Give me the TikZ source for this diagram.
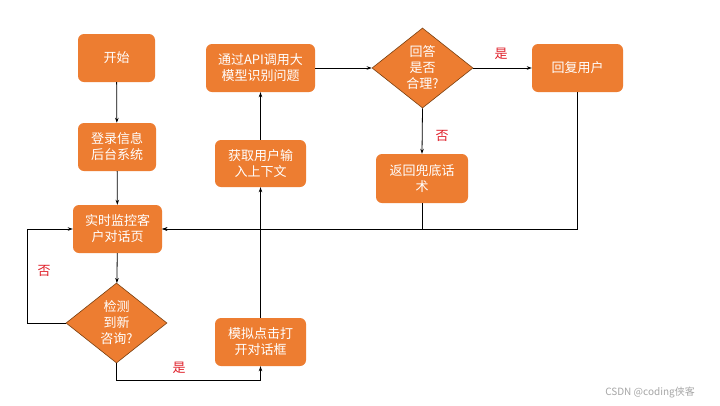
\documentclass[tikz,border=0pt]{standalone}
\usepackage{fontspec}
\setmainfont{Noto Sans CJK SC}
\usetikzlibrary{shapes.geometric,arrows.meta}
\definecolor{boxorange}{HTML}{ED7D31}
\definecolor{edgebrown}{HTML}{7A4010}
\definecolor{labelred}{HTML}{E0202A}
\begin{document}
\begin{tikzpicture}[x=1pt,y=-1pt,
  stepbox/.style={rectangle, rounded corners=6pt, fill=boxorange, text=white, align=center,
    font=\fontsize{13}{16}\selectfont, inner sep=0pt},
  decbox/.style={diamond, fill=boxorange, draw=edgebrown, line width=0.6pt, inner sep=0pt,
    minimum width=101pt, minimum height=80pt},
  dectext/.style={text=white, align=center, font=\fontsize{13}{16}\selectfont, inner sep=0pt},
  lbl/.style={text=labelred, font=\fontsize{13}{16}\selectfont, inner sep=0pt},
  arr/.style={draw=black, line width=0.8pt, -{Stealth[length=5pt,width=3.5pt]}},
  ln/.style={draw=black, line width=0.8pt}]
\useasboundingbox[fill=white] (0,0) rectangle (720,405);

\node[stepbox, minimum width=77pt, minimum height=48pt] (start) at (116.5,58) {开始};
\node[stepbox, minimum width=78pt, minimum height=48pt] (login) at (117,147) {登录信息\\后台系统};
\node[stepbox, minimum width=89pt, minimum height=48pt] (monitor) at (117.5,229) {实时监控客\\户对话页};
\node[decbox] (check) at (116.5,323) {};
\node[dectext] (checkt) at (check.center) {检测\\到新\\咨询?};
\node[stepbox, minimum width=91pt, minimum height=48pt] (click) at (260.5,342) {模拟点击打\\开对话框};
\node[stepbox, minimum width=91pt, minimum height=47pt] (ctx) at (260.5,163.5) {获取用户输\\入上下文};
\node[stepbox, minimum width=109pt, minimum height=48pt] (api) at (260.5,68) {通过API调用大\\模型识别问题};
\node[decbox] (judge) at (422.5,68) {};
\node[dectext] (judget) at (judge.center) {回答\\是否\\合理?};
\node[stepbox, minimum width=91pt, minimum height=48pt] (reply) at (577.5,68) {回复用户};
\node[stepbox, minimum width=92pt, minimum height=49pt] (fallback) at (422,178.5) {返回兜底话\\术};

\draw[arr] (start) -- (login);
\draw[arr] (login) -- (monitor);
\draw[arr] (monitor) -- (check);
\draw[arr] (check.west) -- ++(-38,0) |- (monitor.west);
\draw[arr] (check.south) -- ++(0,17) -| (click.south);
\draw[arr] (click) -- (ctx);
\draw[arr] (ctx) -- (api);
\draw[arr] (api) -- (judge);
\draw[arr] (judge) -- (reply);
\draw[arr] (judge.south) -- (fallback.north);
\draw[arr] (reply.south) |- (monitor.east);
\draw[arr] (fallback.south) |- (monitor.east);

\node[lbl] (lno1) at (44,271) {否};
\node[lbl] (lyes1) at (179,368) {是};
\node[lbl] (lyes2) at (501,54) {是};
\node[lbl] (lno2) at (442,136) {否};

\node[text=gray!70, font=\fontsize{10}{12}\selectfont, inner sep=0pt] (wm) at (650,392) {CSDN @coding侠客};
\end{tikzpicture}
\end{document}
